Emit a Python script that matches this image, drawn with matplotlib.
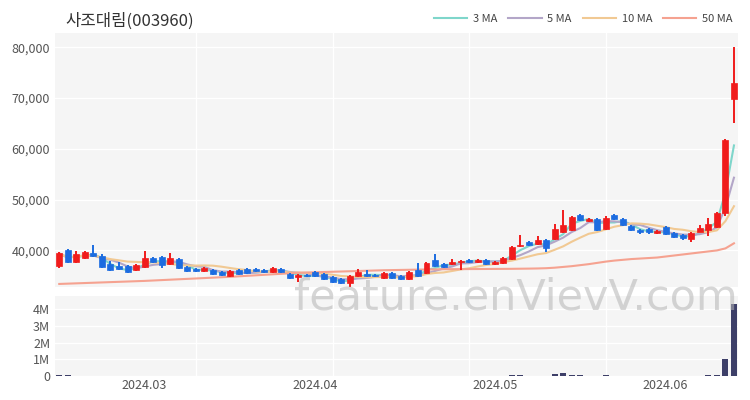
"""Candlestick chart with moving averages and volume for 사조대림(003960)."""

import matplotlib.pyplot as plt
import numpy as np
import pandas as pd
from matplotlib.ticker import FuncFormatter

TITLE = "사조대림(003960)"

opens = [
    37000, 40000, 37800, 38600, 39400, 39000, 37400, 37000, 37000, 36200,
    36800, 38600, 38800, 37400, 38400, 36800, 36400, 36000, 36200, 35800,
    35000, 36200, 36400, 36400, 36200, 35800, 36400, 35400, 34800, 35200,
    35800, 35400, 34800, 34300, 33500, 35000, 35400, 35200, 34500, 35600,
    35000, 34300, 36200, 35600, 38200, 37400, 37400, 37800, 38200, 37800,
    38200, 37400, 37600, 38400, 40800, 41600, 41200, 42000, 42200, 43600,
    44000, 46900, 45800, 46200, 44200, 46900, 46200, 44800, 44000, 44200,
    43400, 44600, 43400, 43000, 42200, 43600, 44000, 44600, 47300, 69900,
]
highs = [
    39600, 40200, 39800, 39800, 41000, 39200, 38000, 37800, 37200, 37400,
    39800, 38800, 39000, 39400, 38600, 37000, 36600, 36800, 36400, 36000,
    36200, 36400, 36600, 36600, 36400, 36800, 36600, 35600, 35400, 35400,
    36000, 35600, 35000, 34500, 35100, 36400, 36200, 35400, 35800, 35800,
    35200, 36000, 37600, 37800, 39200, 37600, 38400, 38200, 38400, 38400,
    38400, 38000, 38800, 40800, 43000, 41800, 42800, 42200, 45300, 47900,
    46800, 47100, 46400, 46400, 46800, 47200, 46400, 45000, 44200, 44400,
    44000, 44800, 43600, 43200, 43600, 45100, 46400, 47600, 62000, 80000,
]
lows = [
    36600, 37600, 37600, 38400, 38800, 36600, 36000, 36200, 35600, 36000,
    36600, 37600, 36600, 37200, 36400, 35800, 35800, 35800, 35200, 35000,
    34800, 35200, 35400, 35800, 35600, 35600, 35600, 34400, 33800, 34800,
    34800, 34200, 33600, 33300, 32800, 34800, 34700, 34700, 34300, 34400,
    34200, 34100, 34800, 35400, 36800, 36600, 37200, 36200, 37600, 37600,
    37200, 37200, 37400, 38200, 40600, 40800, 41000, 39600, 42000, 43400,
    43800, 45700, 45600, 43800, 44000, 46000, 44800, 43800, 43200, 43200,
    43200, 43000, 42400, 42000, 41600, 43600, 42800, 44400, 46800, 65000,
]
closes = [
    39400, 37800, 39200, 39600, 39000, 36800, 36200, 36400, 35800, 37200,
    38600, 37800, 37200, 38600, 36600, 36000, 36000, 36600, 35400, 35200,
    36000, 35400, 35600, 36000, 35800, 36600, 35800, 34600, 35200, 35000,
    35000, 34400, 33800, 33500, 34900, 35800, 34900, 34900, 35600, 34600,
    34400, 35800, 35000, 37600, 37000, 36800, 37800, 38000, 37800, 38200,
    37400, 37800, 38600, 40600, 41000, 41000, 42000, 40400, 44200, 45000,
    46500, 45900, 46200, 44000, 46300, 46200, 45000, 44000, 43600, 43600,
    43800, 43200, 42600, 42400, 43400, 44400, 45200, 47300, 61800, 72900,
]
volumes = [
    40000, 35000, 30000, 25000, 30000, 25000, 20000, 20000, 18000, 20000,
    30000, 25000, 20000, 25000, 20000, 15000, 15000, 15000, 18000, 15000,
    20000, 15000, 15000, 12000, 15000, 18000, 15000, 20000, 20000, 15000,
    18000, 15000, 20000, 20000, 25000, 25000, 18000, 15000, 20000, 18000,
    15000, 25000, 25000, 30000, 30000, 20000, 20000, 20000, 15000, 15000,
    15000, 15000, 20000, 80000, 70000, 25000, 30000, 25000, 140000, 170000,
    80000, 40000, 30000, 30000, 35000, 30000, 25000, 25000, 20000, 20000,
    20000, 25000, 20000, 20000, 25000, 30000, 35000, 70000, 1020000, 4300000,
]
# 50-day average (history before the window is not shown)
ma50 = [
    33400, 33460, 33520, 33580, 33640, 33700, 33760, 33820, 33880, 33940,
    34000, 34080, 34160, 34240, 34320, 34400, 34480, 34560, 34640, 34720,
    34800, 34900, 35000, 35100, 35200, 35300, 35400, 35500, 35600, 35650,
    35700, 35750, 35800, 35850, 35900, 35950, 36000, 36050, 36100, 36130,
    36160, 36190, 36220, 36250, 36270, 36300, 36310, 36320, 36330, 36340,
    36350, 36360, 36370, 36380, 36400, 36420, 36450, 36500, 36600, 36750,
    36900, 37100, 37300, 37550, 37800, 38000, 38150, 38300, 38400, 38500,
    38600, 38800, 39000, 39200, 39400, 39600, 39800, 40000, 40400, 41400,
]
tick_index = [10, 30, 51, 71]
tick_labels = ["2024.03", "2024.04", "2024.05", "2024.06"]
grid_index = [16, 32, 48, 64]

UP_COLOR = "#f01c1c"
DOWN_COLOR = "#1c6ce0"
MA_COLORS = {"3 MA": "#7fd6cb", "5 MA": "#b3a6c8", "10 MA": "#f1c993", "50 MA": "#f5a290"}
PANEL = "#f5f5f5"
TEXT = "#555555"


def _style_axes(ax):
    ax.set_facecolor(PANEL)
    for spine in ax.spines.values():
        spine.set_visible(False)
    ax.grid(axis="y", color="white", linewidth=1.0)
    ax.set_xticks(grid_index, minor=True)
    ax.grid(axis="x", which="minor", color="white", linewidth=1.0)
    ax.set_axisbelow(True)
    ax.tick_params(axis="both", which="both", length=0, colors=TEXT, labelsize=9)
    ax.set_xlim(-0.5, len(closes) - 0.5)


def main():
    plt.rcParams["font.family"] = ["Noto Sans CJK KR", "DejaVu Sans"]

    x = np.arange(len(closes))
    o = np.array(opens)
    c = np.array(closes)
    colors = [UP_COLOR if cl >= op else DOWN_COLOR for op, cl in zip(o, c)]

    close_series = pd.Series(closes, dtype=float)
    averages = {
        "3 MA": close_series.rolling(3, min_periods=1).mean(),
        "5 MA": close_series.rolling(5, min_periods=1).mean(),
        "10 MA": close_series.rolling(10, min_periods=1).mean(),
        "50 MA": pd.Series(ma50, dtype=float),
    }

    fig = plt.figure(figsize=(7.5, 4.0), dpi=100)
    ax_price = fig.add_axes([0.0733, 0.2825, 0.911, 0.635])
    ax_vol = fig.add_axes([0.0733, 0.06, 0.911, 0.2])

    _style_axes(ax_price)
    _style_axes(ax_vol)

    for name, series in averages.items():
        ax_price.plot(x, series, color=MA_COLORS[name], linewidth=1.5, label=name, zorder=2)

    ax_price.vlines(x, lows, highs, colors=colors, linewidth=1.4, zorder=3)
    bodies = np.maximum(np.abs(c - o), 150)
    ax_price.bar(x, bodies, bottom=np.minimum(o, c), width=0.7, color=colors,
                 edgecolor=colors, linewidth=0.5, zorder=4)

    ax_price.set_ylim(32800, 82800)
    ax_price.set_yticks([40000, 50000, 60000, 70000, 80000])
    ax_price.yaxis.set_major_formatter(FuncFormatter(lambda v, _: f"{v:,.0f}"))
    ax_price.set_xticks([])

    ax_vol.bar(x, volumes, width=0.7, color="#3d3f68", zorder=3)
    ax_vol.set_ylim(0, 4.8e6)
    ax_vol.set_yticks([0, 1e6, 2e6, 3e6, 4e6])
    ax_vol.set_yticklabels(["0", "1M", "2M", "3M", "4M"])
    ax_vol.set_xticks(tick_index)
    ax_vol.set_xticklabels(tick_labels)
    ax_vol.tick_params(axis="x", pad=2)

    fig.text(0.087, 0.948, TITLE, fontsize=12, color="#333333", va="center")
    fig.legend(loc="upper right", bbox_to_anchor=(0.99, 0.99), ncol=4, frameon=False,
               fontsize=8, handlelength=3.0, columnspacing=1.0, handletextpad=0.5,
               labelcolor="#444444")

    fig.text(0.688, 0.255, "feature.enVievV.com", fontsize=31, color="#b5b5b5",
             alpha=0.55, ha="center", va="center", family="DejaVu Sans", zorder=10)

    fig.savefig("out.png", dpi=100, facecolor="white")


if __name__ == "__main__":
    main()
